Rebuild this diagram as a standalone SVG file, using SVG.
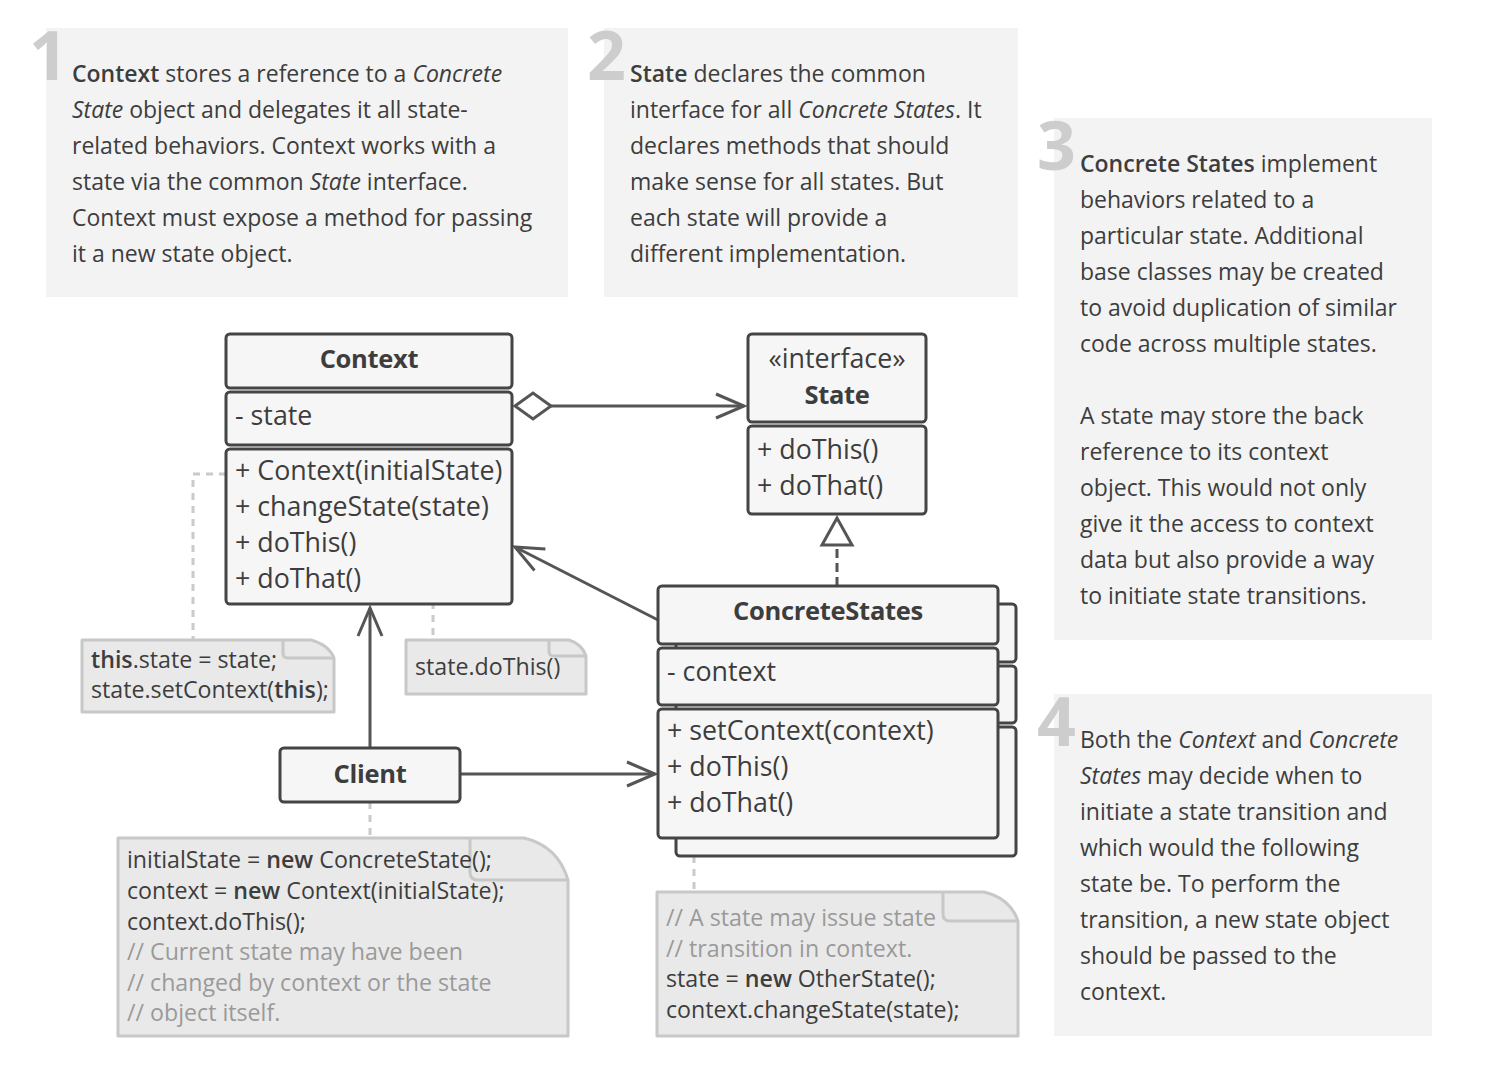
<svg xmlns="http://www.w3.org/2000/svg" width="1506" height="1078" viewBox="0 0 1506 1078">
<style>
text{font-family:"Open Sans","Noto Sans","Liberation Sans",sans-serif;fill:#3d3d3d}
.panel{fill:#f3f3f3}
.num{font-size:68px;font-weight:bold;fill:#cdcdcd;text-anchor:end}
.pt{font-size:23px}
.b{font-weight:600}
.i{font-style:italic}
.box rect{fill:#f6f6f6;stroke:#454545;stroke-width:3}
.bt{font-size:26.8px}
.h{font-size:25.5px;font-weight:bold;letter-spacing:-0.3px}
.c{text-anchor:middle}
.note{fill:#e9e9e9;stroke:#c8c8c8;stroke-width:3;stroke-linejoin:round}
.fold{fill:none;stroke:#c8c8c8;stroke-width:3;stroke-linejoin:round}
.nt{font-size:23.2px}
.cm{fill:#9a9a9a}
.conn{stroke:#555;stroke-width:3;fill:none}
.dash{stroke:#cacaca;stroke-width:3;fill:none;stroke-dasharray:7 6}
</style>
<defs>
<marker id="arr" markerUnits="userSpaceOnUse" viewBox="-32 -16 36 32" refX="0" refY="0" markerWidth="36" markerHeight="32" orient="auto" overflow="visible">
<path d="M-28,-12 L0,0 L-28,12" fill="none" stroke="#555" stroke-width="3"/>
</marker>
<marker id="dia" markerUnits="userSpaceOnUse" viewBox="-2 -16 40 32" refX="0" refY="0" markerWidth="40" markerHeight="32" orient="auto" overflow="visible">
<path d="M0,0 L18,-13 L36,0 L18,13 Z" fill="#fff" stroke="#555" stroke-width="3"/>
</marker>
<marker id="tri" markerUnits="userSpaceOnUse" viewBox="-32 -18 36 36" refX="0" refY="0" markerWidth="36" markerHeight="36" orient="auto" overflow="visible">
<path d="M0,0 L-27,-15 L-27,15 Z" fill="#fff" stroke="#555" stroke-width="3"/>
</marker>
</defs>
<rect width="1506" height="1078" fill="#fff"/>

<g id="panel1">
<rect class="panel" x="46" y="28" width="522" height="269"/>
<text class="num" x="68" y="80">1</text>
<text class="pt" x="72" y="82"><tspan class="b">Context</tspan> stores a reference to a <tspan class="i">Concrete</tspan></text>
<text class="pt" x="72" y="118"><tspan class="i">State</tspan> object and delegates it all state-</text>
<text class="pt" x="72" y="154">related behaviors. Context works with a</text>
<text class="pt" x="72" y="190">state via the common <tspan class="i">State</tspan> interface.</text>
<text class="pt" x="72" y="226">Context must expose a method for passing</text>
<text class="pt" x="72" y="262">it a new state object.</text>
</g>

<g id="panel2">
<rect class="panel" x="604" y="28" width="414" height="269"/>
<text class="num" x="626" y="80">2</text>
<text class="pt" x="630" y="82"><tspan class="b">State</tspan> declares the common</text>
<text class="pt" x="630" y="118">interface for all <tspan class="i">Concrete States</tspan>. It</text>
<text class="pt" x="630" y="154">declares methods that should</text>
<text class="pt" x="630" y="190">make sense for all states. But</text>
<text class="pt" x="630" y="226">each state will provide a</text>
<text class="pt" x="630" y="262">different implementation.</text>
</g>

<g id="panel3">
<rect class="panel" x="1054" y="118" width="378" height="522"/>
<text class="num" x="1076" y="170">3</text>
<text class="pt" x="1080" y="172"><tspan class="b">Concrete States</tspan> implement</text>
<text class="pt" x="1080" y="208">behaviors related to a</text>
<text class="pt" x="1080" y="244">particular state. Additional</text>
<text class="pt" x="1080" y="280">base classes may be created</text>
<text class="pt" x="1080" y="316">to avoid duplication of similar</text>
<text class="pt" x="1080" y="352">code across multiple states.</text>
<text class="pt" x="1080" y="424">A state may store the back</text>
<text class="pt" x="1080" y="460">reference to its context</text>
<text class="pt" x="1080" y="496">object. This would not only</text>
<text class="pt" x="1080" y="532">give it the access to context</text>
<text class="pt" x="1080" y="568">data but also provide a way</text>
<text class="pt" x="1080" y="604">to initiate state transitions.</text>
</g>

<g id="panel4">
<rect class="panel" x="1054" y="694" width="378" height="342"/>
<text class="num" x="1076" y="746">4</text>
<text class="pt" x="1080" y="748">Both the <tspan class="i">Context</tspan> and <tspan class="i">Concrete</tspan></text>
<text class="pt" x="1080" y="784"><tspan class="i">States</tspan> may decide when to</text>
<text class="pt" x="1080" y="820">initiate a state transition and</text>
<text class="pt" x="1080" y="856">which would the following</text>
<text class="pt" x="1080" y="892">state be. To perform the</text>
<text class="pt" x="1080" y="928">transition, a new state object</text>
<text class="pt" x="1080" y="964">should be passed to the</text>
<text class="pt" x="1080" y="1000">context.</text>
</g>

<g id="connectors">
<path class="dash" d="M226,474 H193 V640"/>
<path class="dash" d="M386,545 H433 V640"/>
<path class="dash" d="M370,802 V838"/>
<path class="dash" d="M694,856 V892"/>
<circle cx="378" cy="545" r="6" fill="none" stroke="#cacaca" stroke-width="3"/>
<path class="conn" d="M515,406 H744" marker-start="url(#dia)" marker-end="url(#arr)"/>
<path class="conn" d="M837,586 V518" stroke-dasharray="9 5" marker-end="url(#tri)"/>
<path class="conn" d="M658,620 L515,547" marker-end="url(#arr)"/>
<path class="conn" d="M370,748 V608" marker-end="url(#arr)"/>
<path class="conn" d="M460,774 H655" marker-end="url(#arr)"/>
</g>

<g id="context" class="box">
<rect x="226" y="334" width="286" height="54" rx="4"/>
<rect x="226" y="392" width="286" height="53" rx="4"/>
<rect x="226" y="449" width="286" height="155" rx="4"/>
<text class="h c" x="369" y="368">Context</text>
<text class="bt" x="235" y="425">- state</text>
<text class="bt" x="235" y="480">+ Context(initialState)</text>
<text class="bt" x="235" y="516">+ changeState(state)</text>
<text class="bt" x="235" y="552">+ doThis()</text>
<text class="bt" x="235" y="588">+ doThat()</text>
</g>

<g id="state" class="box">
<rect x="748" y="334" width="178" height="88" rx="4"/>
<rect x="748" y="426" width="178" height="88" rx="4"/>
<text class="bt c" x="837" y="368">«interface»</text>
<text class="h c" x="837" y="404">State</text>
<text class="bt" x="757" y="459">+ doThis()</text>
<text class="bt" x="757" y="495">+ doThat()</text>
</g>

<g id="concretestates" class="box">
<rect x="676" y="604" width="340" height="58" rx="4"/>
<rect x="676" y="666" width="340" height="57" rx="4"/>
<rect x="676" y="727" width="340" height="129" rx="4"/>
<rect x="658" y="586" width="340" height="58" rx="4"/>
<rect x="658" y="648" width="340" height="57" rx="4"/>
<rect x="658" y="709" width="340" height="129" rx="4"/>
<text class="h c" x="828" y="620">ConcreteStates</text>
<text class="bt" x="667" y="681">- context</text>
<text class="bt" x="667" y="740">+ setContext(context)</text>
<text class="bt" x="667" y="776">+ doThis()</text>
<text class="bt" x="667" y="812">+ doThat()</text>
</g>

<g id="client" class="box">
<rect x="280" y="748" width="180" height="54" rx="4"/>
<text class="h c" x="370" y="783">Client</text>
</g>

<g id="note1">
<path class="note" d="M82,640 H311 Q329,645 334,658 V712 H82 Z"/>
<path class="fold" d="M283,640 V653 Q283,658 288,658 H334"/>
<text class="nt" x="91" y="668"><tspan class="b">this</tspan>.state = state;</text>
<text class="nt" x="91" y="698">state.setContext(<tspan class="b">this</tspan>);</text>
</g>

<g id="note2">
<path class="note" d="M406,640 H569 Q582,644 586,656 V694 H406 Z"/>
<path class="fold" d="M549,640 V651 Q549,656 554,656 H586"/>
<text class="nt" x="415" y="675">state.doThis()</text>
</g>

<g id="note3">
<path class="note" d="M118,838 H524 Q558,846 568,880 V1036 H118 Z"/>
<path class="fold" d="M470,838 V872 Q470,880 478,880 H568"/>
<text class="nt" x="127" y="868">initialState = <tspan class="b">new</tspan> ConcreteState();</text>
<text class="nt" x="127" y="899">context = <tspan class="b">new</tspan> Context(initialState);</text>
<text class="nt" x="127" y="930">context.doThis();</text>
<text class="nt cm" x="127" y="960">// Current state may have been</text>
<text class="nt cm" x="127" y="991">// changed by context or the state</text>
<text class="nt cm" x="127" y="1021">// object itself.</text>
</g>

<g id="note4">
<path class="note" d="M657,892 H984 Q1010,898 1018,921 V1036 H657 Z"/>
<path class="fold" d="M943,892 V914 Q943,921 950,921 H1018"/>
<text class="nt cm" x="666" y="926">// A state may issue state</text>
<text class="nt cm" x="666" y="957">// transition in context.</text>
<text class="nt" x="666" y="987">state = <tspan class="b">new</tspan> OtherState();</text>
<text class="nt" x="666" y="1018">context.changeState(state);</text>
</g>
</svg>
